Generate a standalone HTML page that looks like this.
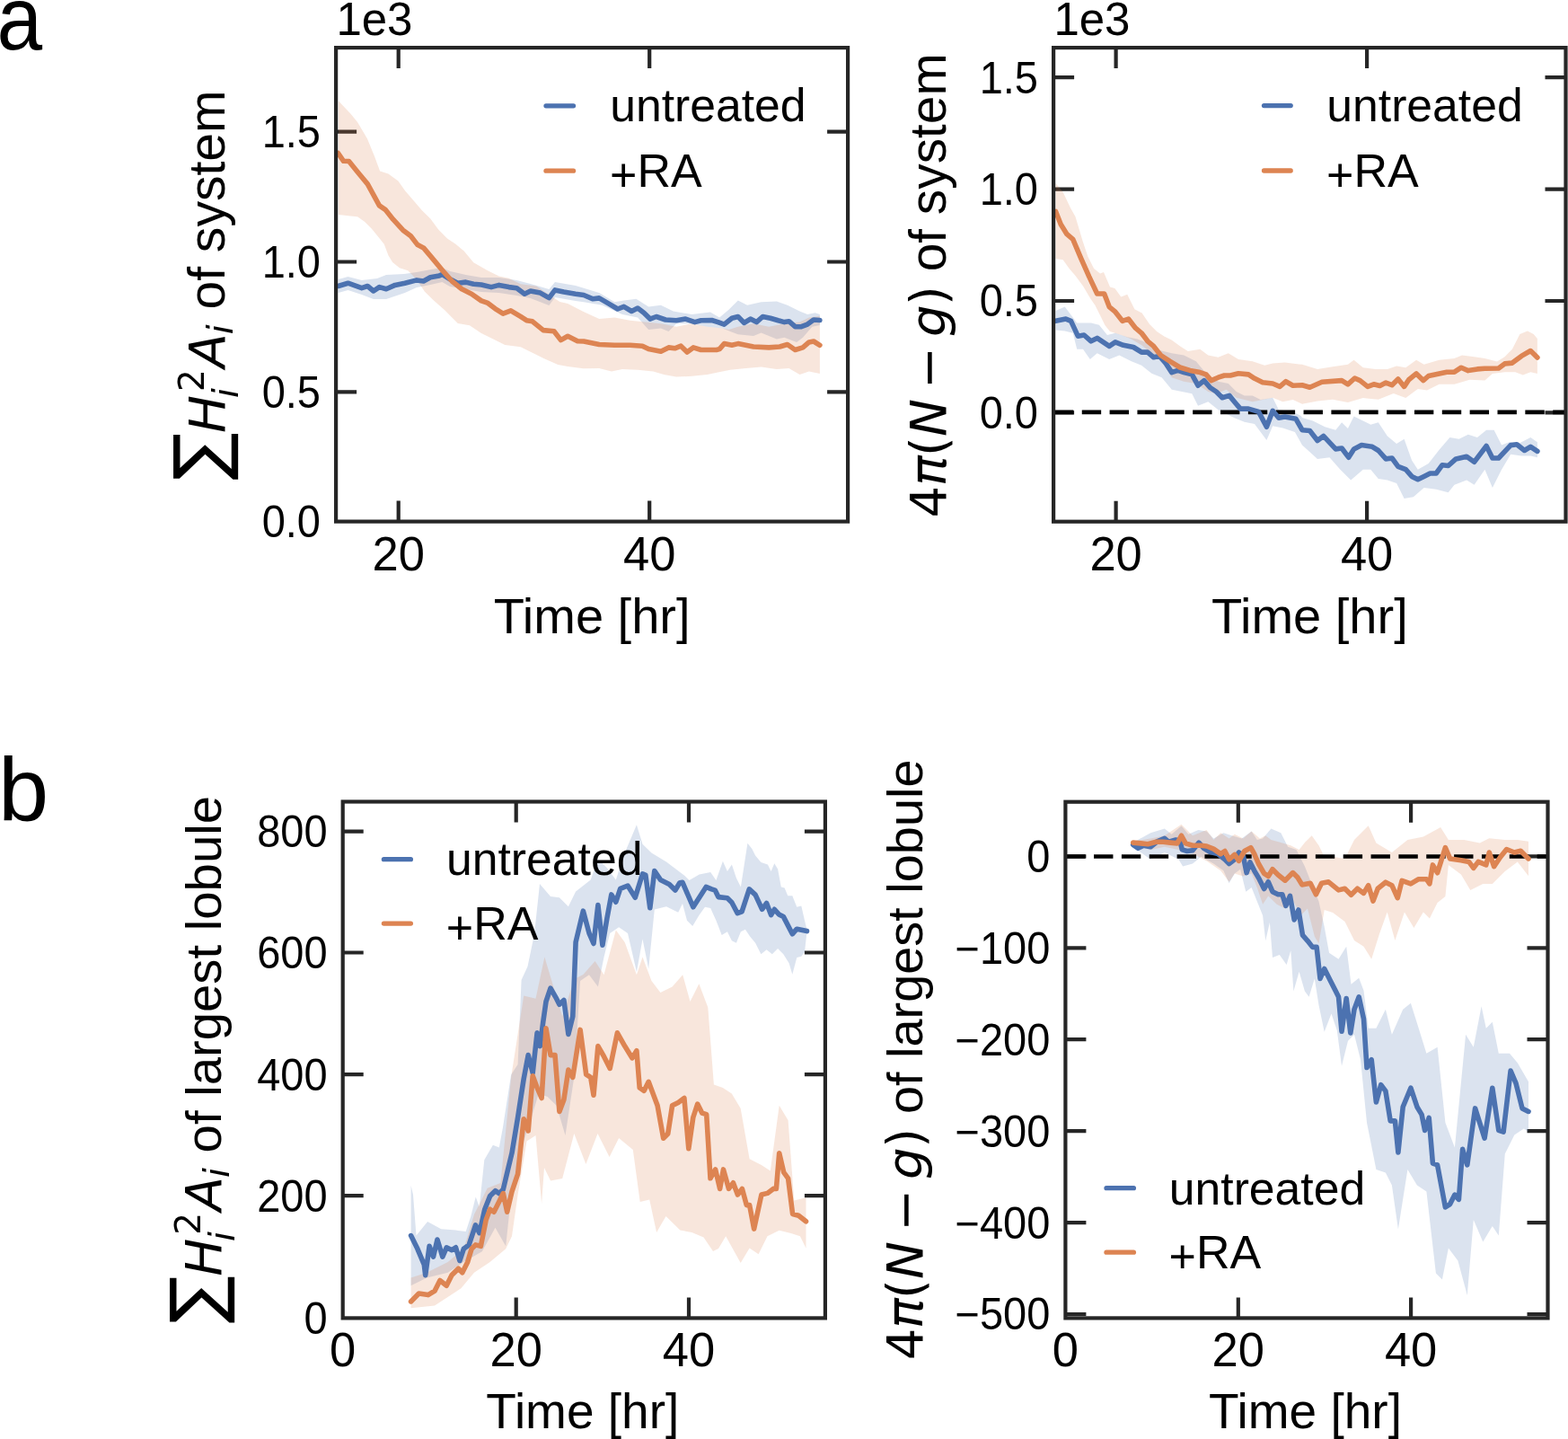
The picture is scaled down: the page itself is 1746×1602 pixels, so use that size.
<!DOCTYPE html>
<html><head><meta charset="utf-8"><title>Figure</title>
<style>
html,body{margin:0;padding:0;background:#fff;}
body{width:1746px;height:1602px;overflow:hidden;position:relative;}
svg{display:block;position:absolute;left:0;top:0;}
text{font-family:"Liberation Sans",Arial,Helvetica,sans-serif;fill:#000;}
</style></head><body>
<svg width="1746" height="1602" viewBox="0 0 1746 1602">
<rect width="1746" height="1602" fill="#fff"/>
<g id="aL">
<clipPath id="caL"><rect x="374.1" y="53.1" width="570.0" height="527.5"/></clipPath>
<path d="M443.7,580.6v-23M443.7,53.1v23M723.2,580.6v-23M723.2,53.1v23M374.1,436.3h23M944.1,436.3h-23M374.1,291.5h23M944.1,291.5h-23M374.1,146.6h23M944.1,146.6h-23" stroke="#262626" stroke-width="4.2" fill="none"/>
<g clip-path="url(#caL)">
<polygon points="376.6,311.0 387.5,308.0 402.8,312.0 420.0,310.0 430.1,306.0 450.0,305.0 464.0,303.0 480.0,300.0 492.4,298.0 501.1,302.0 518.6,306.0 536.0,309.0 555.7,309.0 575.4,312.0 590.7,316.0 611.4,322.0 618.0,314.0 640.9,318.0 650.0,320.8 667.2,325.9 684.4,336.2 694.7,334.5 708.4,332.8 722.2,341.4 735.9,339.7 749.7,346.5 770.3,350.0 790.9,347.4 801.2,353.4 811.5,344.8 821.8,334.5 832.1,339.7 847.6,336.2 864.8,335.4 876.8,339.7 890.5,346.5 899.1,350.0 907.7,348.2 912.9,350.0 912.9,362.0 904.3,363.7 894.0,375.7 887.1,380.9 873.4,375.7 864.8,377.5 847.6,370.6 839.0,374.0 821.8,372.3 813.2,368.9 804.6,365.4 787.5,363.7 770.3,360.3 753.1,360.3 744.5,368.9 735.9,365.4 722.2,367.1 710.1,353.4 693.0,350.0 670.6,339.7 650.0,336.2 640.9,335.0 618.0,331.0 611.4,340.0 590.7,332.0 575.4,329.0 555.7,326.0 536.0,325.0 518.6,322.0 501.1,319.0 492.4,314.0 479.2,317.0 464.0,320.0 450.8,326.0 430.1,333.0 415.9,333.0 402.8,328.0 387.5,323.0 376.6,326.0" fill="rgba(76,114,176,0.2)" stroke="none"/>
<polygon points="377.0,112.5 390.3,126.5 398.1,135.9 409.0,154.6 416.8,173.4 423.1,190.5 432.4,193.6 443.4,201.5 451.2,212.4 460.5,223.3 469.9,234.2 479.3,243.6 488.6,256.1 498.0,265.4 507.4,271.7 516.7,279.5 527.3,292.3 542.6,301.0 555.7,307.6 566.6,309.7 579.7,316.3 597.2,318.5 610.3,327.2 623.4,336.0 632.2,338.1 649.7,346.9 667.2,355.1 684.4,353.4 701.5,356.8 718.7,358.6 735.9,360.3 753.1,363.7 770.3,360.3 787.5,363.7 804.6,365.4 811.5,367.1 821.8,363.7 839.0,360.3 856.2,363.7 873.4,360.3 890.5,358.6 900.9,353.4 912.9,351.7 912.9,416.1 900.9,413.5 890.5,417.0 878.5,410.1 864.8,411.0 847.6,408.4 830.4,410.1 813.2,411.8 799.5,414.4 787.5,417.0 770.3,418.7 753.1,419.6 739.3,417.0 727.3,413.5 710.1,411.8 693.0,411.0 680.9,413.5 667.2,410.1 649.7,410.3 632.2,408.1 621.3,405.9 606.0,399.3 592.9,392.8 579.7,386.2 562.3,384.0 549.2,377.5 536.0,370.9 522.9,362.2 509.8,360.0 501.1,351.3 494.9,345.0 482.4,334.1 473.0,324.7 463.6,310.7 454.3,301.3 444.9,298.2 437.1,292.0 432.4,284.2 427.7,271.7 421.5,263.9 413.7,254.5 405.9,246.7 398.1,241.3 390.3,240.5 377.0,238.9" fill="rgba(221,132,82,0.2)" stroke="none"/>
<polyline points="376.6,318.5 387.5,315.2 402.8,320.7 409.3,318.5 415.9,324.0 422.4,319.6 430.1,321.8 439.9,317.4 450.8,315.2 464.0,311.9 471.6,313.0 479.2,308.7 489.1,307.1 492.4,305.4 501.1,310.8 509.8,315.2 518.6,314.1 527.3,316.3 536.0,317.0 547.0,319.6 555.7,317.4 566.6,319.6 575.4,320.7 584.1,327.2 590.7,324.0 601.6,326.1 611.4,331.6 618.0,322.9 627.8,325.0 640.9,327.2 650.0,328.5 660.3,332.8 667.2,331.9 677.5,337.9 687.8,344.0 694.7,341.4 703.3,346.5 710.1,343.1 717.0,348.2 723.9,355.1 730.8,352.5 741.1,356.0 753.1,356.8 763.4,355.1 773.7,358.6 780.6,356.8 792.6,356.5 799.5,358.6 806.4,361.1 815.0,354.3 821.8,352.5 828.7,359.4 835.6,355.1 842.4,358.6 849.3,352.5 857.9,354.3 866.5,356.8 873.4,358.6 878.5,357.7 885.4,363.7 892.3,363.7 899.1,361.1 906.0,356.0 912.9,356.5" fill="none" stroke="#4C72B0" stroke-width="5.6" stroke-linejoin="round" stroke-linecap="round"/>
<polyline points="376.5,170.5 382.5,179.3 388.5,179.5 398.4,191.8 409.3,204.9 422.4,228.9 429.0,233.3 437.7,244.2 448.7,256.2 457.4,262.8 465.0,272.6 471.6,275.9 483.6,290.1 494.5,303.2 503.3,313.0 514.2,321.8 525.1,327.2 536.0,334.9 542.6,337.1 551.3,343.6 560.1,349.1 568.8,345.8 579.7,352.4 586.3,356.7 592.9,357.8 604.9,367.6 616.9,368.7 624.5,378.6 632.2,374.2 643.1,379.7 650.0,380.0 667.2,383.5 684.4,384.3 701.5,384.3 715.3,385.2 722.2,388.6 735.9,391.2 744.5,386.9 751.4,387.8 758.2,385.2 765.1,392.1 772.0,386.9 780.6,389.5 797.8,389.5 801.2,388.6 806.4,382.6 815.0,384.3 821.8,382.6 839.0,386.0 856.2,386.9 868.2,386.0 876.8,383.5 885.4,389.5 894.0,386.9 900.9,380.9 906.0,380.0 912.9,384.3" fill="none" stroke="#DD8452" stroke-width="5.6" stroke-linejoin="round" stroke-linecap="round"/>
</g>
<rect x="374.1" y="53.1" width="570.0" height="527.5" fill="none" stroke="#262626" stroke-width="4.2" stroke-linejoin="miter"/>
</g>
<g id="aR">
<clipPath id="caR"><rect x="1173.1" y="53.1" width="570.4000000000001" height="527.6"/></clipPath>
<path d="M1242.6,580.7v-23M1242.6,53.1v23M1522.1,580.7v-23M1522.1,53.1v23M1173.1,459.4h23M1743.5,459.4h-23M1173.1,335.0h23M1743.5,335.0h-23M1173.1,210.6h23M1743.5,210.6h-23M1173.1,86.2h23M1743.5,86.2h-23" stroke="#262626" stroke-width="4.2" fill="none"/>
<g clip-path="url(#caR)">
<polygon points="1175.6,346.1 1185.7,341.6 1192.5,350.6 1199.2,359.6 1214.9,359.6 1223.9,361.8 1232.9,373.0 1241.9,370.8 1255.4,375.3 1266.6,377.5 1277.9,382.0 1291.3,389.9 1304.8,393.3 1318.3,395.5 1331.8,402.2 1343.0,415.7 1356.5,424.7 1367.8,427.0 1376.7,436.0 1385.7,440.4 1394.7,440.4 1403.7,444.9 1417.2,442.7 1423.9,456.2 1439.7,458.4 1448.7,462.9 1450.0,465.1 1461.9,468.5 1475.4,475.3 1487.3,478.7 1494.1,470.2 1500.9,477.0 1507.6,463.4 1517.8,468.5 1526.3,472.7 1534.8,470.2 1544.9,485.4 1555.1,493.9 1563.6,488.8 1572.1,512.6 1578.8,522.7 1590.7,516.0 1602.6,500.7 1614.4,487.1 1624.6,488.8 1634.8,483.8 1645.0,487.1 1655.1,478.7 1663.6,478.7 1672.1,495.6 1680.5,492.2 1690.7,493.9 1704.3,487.1 1711.9,492.2 1711.9,509.2 1704.3,507.5 1694.1,507.5 1682.2,505.8 1672.1,522.7 1661.9,543.1 1653.4,522.7 1641.6,539.7 1633.1,534.6 1619.5,539.7 1612.7,548.2 1599.2,544.8 1585.6,543.1 1573.8,553.3 1563.6,554.9 1555.1,538.0 1544.9,534.6 1534.8,532.9 1526.3,522.7 1517.8,522.7 1504.2,534.6 1492.4,522.7 1480.5,509.2 1467.0,510.9 1450.0,495.6 1441.9,480.9 1428.4,476.4 1417.2,474.2 1410.4,489.9 1397.0,471.9 1385.7,469.7 1374.5,465.2 1365.5,460.7 1356.5,456.2 1345.3,447.2 1334.0,451.7 1327.3,438.2 1316.1,436.0 1304.8,433.7 1293.6,420.2 1282.4,415.7 1271.1,406.7 1259.9,402.2 1246.4,395.5 1235.2,400.0 1221.7,393.3 1213.8,400.0 1206.0,388.8 1199.2,388.8 1194.7,370.8 1185.7,368.5 1175.6,367.4" fill="rgba(76,114,176,0.2)" stroke="none"/>
<polygon points="1175.6,204.0 1183.7,214.0 1192.0,231.6 1197.5,241.2 1201.6,255.0 1205.7,268.7 1211.2,285.2 1218.1,298.9 1225.0,304.4 1229.0,303.0 1236.0,319.5 1241.4,320.9 1248.3,330.5 1255.2,327.7 1263.4,344.2 1271.6,348.4 1279.9,360.7 1288.1,369.0 1296.4,374.5 1304.6,378.6 1314.2,385.4 1322.8,391.0 1336.3,388.8 1345.3,395.5 1356.5,397.8 1367.8,393.3 1379.0,400.0 1394.7,402.2 1408.2,406.7 1417.2,404.5 1430.7,403.4 1446.4,405.6 1450.0,405.8 1467.0,410.9 1483.9,408.3 1500.9,405.8 1507.6,400.7 1517.8,409.2 1531.4,410.9 1544.9,410.9 1555.1,407.5 1565.3,409.2 1577.1,400.7 1585.6,405.8 1602.6,400.7 1619.5,399.0 1628.0,395.6 1641.6,397.3 1653.4,399.0 1667.0,402.4 1675.5,397.3 1683.9,388.8 1692.4,371.9 1700.9,368.5 1707.7,371.9 1711.9,377.0 1711.9,415.9 1704.3,414.2 1695.8,417.6 1687.3,414.2 1675.5,414.2 1661.9,415.9 1653.4,423.6 1636.5,422.7 1619.5,427.8 1602.6,427.8 1589.0,434.6 1578.8,432.9 1565.3,443.1 1551.7,438.0 1534.8,444.8 1517.8,443.1 1500.9,448.1 1483.9,444.8 1467.0,446.5 1450.0,449.8 1439.7,444.9 1428.4,447.2 1417.2,442.7 1406.0,444.9 1394.7,447.2 1385.7,444.9 1376.7,442.7 1365.5,433.7 1354.3,438.2 1345.3,436.0 1331.8,427.0 1318.3,424.7 1304.8,420.2 1293.6,402.2 1282.4,393.3 1271.1,384.3 1259.9,377.5 1248.7,373.0 1235.9,369.0 1230.4,362.1 1225.0,351.1 1219.5,340.1 1214.0,331.9 1205.7,318.1 1197.5,307.1 1190.6,298.9 1183.7,289.3 1175.5,287.9" fill="rgba(221,132,82,0.2)" stroke="none"/>
<line x1="1173.1" y1="458.9" x2="1743.5" y2="458.9" stroke="#000" stroke-width="4.6" stroke-dasharray="21.4 9.45" stroke-dashoffset="-0.8"/>
<polyline points="1175.6,357.3 1186.9,355.1 1192.5,357.3 1200.3,374.2 1207.1,373.0 1214.9,379.8 1221.7,376.4 1235.2,385.4 1241.9,380.9 1250.9,384.3 1262.1,386.5 1271.1,392.1 1277.9,392.1 1284.6,397.8 1291.3,396.6 1298.1,404.5 1304.8,414.6 1311.6,412.4 1318.3,414.6 1327.3,416.9 1334.0,429.2 1340.8,423.6 1347.5,431.5 1354.3,436.0 1361.0,442.7 1368.9,440.4 1374.5,447.2 1381.2,455.1 1390.2,455.1 1401.5,458.4 1410.4,475.3 1417.2,457.3 1423.9,465.2 1430.7,464.0 1443.0,466.3 1450.0,478.7 1458.5,479.5 1467.0,490.5 1473.7,485.4 1487.3,499.9 1494.1,499.0 1501.7,509.2 1507.6,499.9 1516.1,495.6 1528.0,497.3 1534.8,501.5 1543.2,510.9 1550.0,510.0 1556.8,519.3 1565.3,522.7 1572.1,530.4 1578.8,533.8 1585.6,530.4 1592.4,527.0 1599.2,527.0 1606.0,517.7 1612.7,518.5 1621.2,510.9 1633.1,508.3 1641.6,514.3 1655.1,496.5 1661.9,510.0 1668.7,510.0 1682.2,495.6 1689.0,494.8 1697.5,501.5 1704.3,497.3 1711.9,502.4" fill="none" stroke="#4C72B0" stroke-width="5.6" stroke-linejoin="round" stroke-linecap="round"/>
<polyline points="1175.6,235.5 1181.2,249.7 1188.0,260.7 1194.7,266.3 1203.7,287.6 1212.7,307.9 1221.7,327.0 1229.6,327.0 1235.2,341.6 1241.9,347.2 1249.8,357.3 1256.5,355.1 1264.4,365.2 1271.1,370.8 1277.9,379.8 1284.6,385.4 1292.5,395.5 1302.6,402.2 1313.8,409.0 1325.1,412.4 1336.3,414.6 1343.0,416.9 1348.7,423.6 1356.5,420.2 1363.3,418.0 1370.0,418.0 1379.0,415.7 1390.2,416.9 1397.0,421.3 1406.0,425.8 1417.2,427.0 1425.1,430.3 1431.8,424.7 1439.7,429.2 1450.0,428.7 1458.5,431.2 1472.0,425.3 1494.1,423.6 1500.9,427.8 1508.5,421.0 1514.4,423.6 1522.9,430.4 1529.7,427.8 1536.5,429.5 1543.2,426.1 1550.0,428.7 1556.8,421.9 1563.6,430.4 1568.7,422.7 1577.1,415.9 1584.8,423.6 1590.7,418.5 1602.6,415.9 1611.0,414.2 1619.5,414.2 1627.1,409.2 1634.8,412.6 1645.0,410.9 1653.4,410.3 1668.7,410.0 1675.5,404.9 1683.9,404.1 1694.1,396.4 1704.3,390.5 1711.9,398.1" fill="none" stroke="#DD8452" stroke-width="5.6" stroke-linejoin="round" stroke-linecap="round"/>
</g>
<rect x="1173.1" y="53.1" width="570.4000000000001" height="527.6" fill="none" stroke="#262626" stroke-width="4.2" stroke-linejoin="miter"/>
</g>
<g id="bL">
<clipPath id="cbL"><rect x="381.7" y="892.5" width="537.2" height="574.9000000000001"/></clipPath>
<path d="M574.7,1467.4v-23M574.7,892.5v23M767.0,1467.4v-23M767.0,892.5v23M381.7,1331.1h23M918.9,1331.1h-23M381.7,1196.2h23M918.9,1196.2h-23M381.7,1060.5h23M918.9,1060.5h-23M381.7,925.6h23M918.9,925.6h-23" stroke="#262626" stroke-width="4.2" fill="none"/>
<g clip-path="url(#cbL)">
<polygon points="457.6,1319.8 460.0,1330.0 463.5,1375.6 476.1,1359.9 491.2,1368.2 507.7,1369.6 518.7,1371.0 524.2,1354.4 529.7,1332.4 533.8,1343.4 539.3,1291.2 548.9,1274.7 555.8,1277.5 560.0,1255.0 569.1,1196.6 576.6,1185.0 580.6,1091.0 587.5,1076.0 595.0,1040.0 601.0,984.0 613.0,998.0 622.9,999.2 632.9,1009.2 641.1,992.6 649.4,986.0 657.7,979.4 665.9,956.2 675.9,966.2 685.8,979.4 695.7,949.6 708.9,918.2 715.5,939.7 725.5,949.6 742.0,959.5 762.5,974.9 767.5,979.9 778.7,973.6 791.2,971.1 797.4,979.9 804.9,958.7 809.9,969.9 814.9,962.4 819.9,977.4 824.9,987.4 832.4,938.7 837.4,944.9 841.1,952.4 847.4,959.9 854.9,962.4 858.6,969.9 862.3,961.2 866.1,967.4 869.8,987.4 873.6,988.6 877.3,997.3 882.3,997.3 887.3,1009.8 892.3,1008.6 896.0,1024.8 898.5,1034.8 898.5,1037.3 896.0,1059.7 892.3,1064.7 887.3,1066.0 882.3,1084.7 878.6,1072.2 872.3,1062.2 866.1,1056.0 859.8,1062.2 853.6,1057.3 847.4,1062.2 841.1,1049.8 834.9,1042.3 829.9,1034.8 824.9,1037.3 819.9,1049.8 814.9,1047.3 809.9,1037.3 803.7,1041.0 797.4,1024.8 791.2,1011.1 785.0,1009.8 778.7,1018.6 771.2,1031.0 765.0,1024.8 760.0,1006.1 755.2,1015.8 742.0,1009.2 728.8,1012.5 722.2,1078.6 715.5,1045.5 708.9,1081.9 699.0,1038.9 689.1,1032.3 679.2,1038.9 672.5,1065.4 665.9,1098.5 656.0,1085.2 646.1,1091.9 639.5,1197.7 629.5,1263.9 619.6,1230.8 609.7,1220.9 599.8,1217.6 589.8,1250.6 579.9,1280.4 570.0,1323.4 563.2,1387.3 551.5,1366.8 536.8,1393.2 516.3,1404.9 498.7,1416.7 475.2,1422.5 457.6,1431.3" fill="rgba(76,114,176,0.2)" stroke="none"/>
<polygon points="457.6,1422.5 475.2,1416.7 498.7,1404.9 516.3,1390.3 528.0,1352.1 542.7,1322.8 557.4,1316.9 569.1,1199.5 583.2,1108.4 596.5,1111.7 606.4,1065.4 616.3,1098.5 626.2,1131.6 639.5,1090.0 649.4,1085.0 662.6,1070.0 672.5,1085.2 685.8,1035.6 695.7,1048.9 708.9,1085.2 715.5,1065.4 725.5,1091.9 735.4,1105.1 748.6,1098.5 760.2,1085.2 768.5,1115.0 778.4,1095.2 788.3,1121.6 794.9,1207.6 804.9,1210.9 814.8,1217.6 824.7,1234.1 834.6,1290.3 847.9,1297.0 857.8,1303.6 867.7,1230.8 877.6,1247.3 884.3,1336.6 897.5,1333.3 897.5,1389.6 890.9,1376.3 880.9,1373.0 867.7,1369.7 854.5,1376.3 844.6,1396.2 834.6,1389.6 824.7,1406.1 808.2,1376.3 800.0,1390.0 794.0,1393.0 783.5,1377.5 770.4,1372.0 757.3,1369.6 741.5,1354.0 731.1,1372.0 723.2,1335.5 712.7,1338.0 704.8,1280.0 689.1,1267.0 678.6,1288.0 665.5,1262.0 652.4,1296.0 639.3,1262.0 626.2,1312.0 613.1,1314.5 606.0,1300.0 603.1,1340.0 596.5,1263.9 586.5,1270.5 576.6,1330.0 570.0,1376.3 563.2,1390.3 545.6,1404.9 528.0,1416.7 513.4,1434.3 484.0,1453.4 457.6,1456.3" fill="rgba(221,132,82,0.2)" stroke="none"/>
<polyline points="457.6,1375.6 464.9,1390.3 472.3,1407.9 473.7,1419.6 478.1,1387.3 482.5,1399.1 487.0,1380.0 492.8,1399.1 497.2,1388.8 503.1,1391.7 507.5,1388.8 511.9,1403.5 516.3,1390.3 522.2,1385.9 529.5,1363.8 533.9,1372.7 539.8,1346.2 545.6,1331.6 551.5,1325.7 555.9,1328.6 560.3,1324.2 566.2,1299.3 570.0,1283.7 576.6,1244.0 583.2,1201.0 588.2,1174.6 593.2,1194.4 598.1,1149.8 601.4,1164.6 604.7,1138.2 608.0,1115.0 613.0,1100.1 619.6,1111.7 622.9,1118.3 627.9,1113.4 632.9,1151.4 637.8,1131.6 641.1,1048.9 649.4,1014.1 656.0,1038.9 661.0,1050.5 665.9,1007.5 670.9,1052.2 675.9,1022.4 680.8,995.9 685.8,1004.2 690.7,989.3 699.0,986.0 707.3,999.2 715.5,972.8 718.9,974.4 723.8,1010.8 728.8,969.5 735.4,979.4 745.3,984.4 751.9,991.0 756.9,982.7 760.0,982.4 771.9,1009.8 786.2,987.4 792.4,989.9 796.2,991.1 799.9,998.6 809.9,999.8 814.9,1004.8 821.2,1016.7 826.1,1014.8 834.3,989.9 841.1,996.1 848.6,1012.3 853.6,1005.5 858.6,1018.6 862.3,1012.3 867.3,1017.9 872.3,1020.4 882.3,1039.8 887.3,1034.2 898.5,1036.6" fill="none" stroke="#4C72B0" stroke-width="5.6" stroke-linejoin="round" stroke-linecap="round"/>
<polyline points="457.6,1448.9 466.4,1440.1 476.7,1441.6 484.0,1437.2 489.9,1425.5 497.2,1431.3 503.1,1419.6 510.4,1412.3 514.8,1416.7 520.7,1404.9 525.1,1390.3 529.5,1385.9 535.4,1387.3 541.2,1358.0 545.6,1346.2 550.0,1349.2 555.9,1337.4 560.3,1328.6 564.7,1349.2 570.0,1326.7 576.6,1306.9 583.2,1245.7 588.2,1258.9 593.2,1197.7 598.1,1211.0 603.1,1222.5 608.0,1144.8 613.0,1174.6 618.0,1174.6 622.9,1237.4 627.9,1224.2 632.9,1191.1 637.8,1199.4 646.1,1146.4 652.7,1196.1 657.7,1199.4 661.0,1219.2 665.9,1164.6 672.5,1176.2 679.2,1189.4 687.4,1149.8 695.7,1164.6 704.0,1177.9 708.9,1169.6 712.2,1211.0 717.2,1214.3 722.2,1204.3 732.1,1230.8 738.7,1267.2 743.7,1262.2 748.6,1230.8 755.2,1227.5 761.9,1222.5 766.8,1278.8 771.8,1244.0 776.7,1229.1 781.7,1239.1 786.7,1240.7 791.0,1311.8 796.6,1301.9 801.6,1323.4 805.5,1301.9 811.5,1323.4 816.4,1316.8 821.4,1330.0 826.4,1323.4 831.3,1341.6 834.6,1341.6 839.6,1368.1 847.9,1330.0 854.5,1328.4 861.1,1323.4 864.4,1323.4 867.7,1283.7 872.7,1305.2 877.6,1311.8 882.6,1351.5 889.2,1353.2 897.5,1359.8" fill="none" stroke="#DD8452" stroke-width="5.6" stroke-linejoin="round" stroke-linecap="round"/>
</g>
<rect x="381.7" y="892.5" width="537.2" height="574.9000000000001" fill="none" stroke="#262626" stroke-width="4.2" stroke-linejoin="miter"/>
</g>
<g id="bR">
<clipPath id="cbR"><rect x="1186.4" y="892.7" width="537.0999999999999" height="574.7"/></clipPath>
<path d="M1378.8,1467.4v-23M1378.8,892.7v23M1571.1,1467.4v-23M1571.1,892.7v23M1186.4,953.3h23M1723.5,953.3h-23M1186.4,1055.3h23M1723.5,1055.3h-23M1186.4,1157.2h23M1723.5,1157.2h-23M1186.4,1259.2h23M1723.5,1259.2h-23M1186.4,1361.1h23M1723.5,1361.1h-23M1186.4,1463.0h23M1723.5,1463.0h-23" stroke="#262626" stroke-width="4.2" fill="none"/>
<g clip-path="url(#cbR)">
<polygon points="1261.7,938.1 1281.2,927.2 1296.8,922.5 1304.6,928.7 1315.5,919.4 1323.3,928.7 1334.3,924.0 1343.6,925.6 1351.4,933.4 1362.4,927.2 1371.7,930.3 1382.6,933.4 1393.6,925.6 1399.8,935.0 1406.1,933.4 1415.4,922.5 1426.3,927.2 1434.1,942.8 1443.5,945.9 1452.9,964.6 1459.1,980.2 1468.5,1003.6 1474.7,1031.7 1480.0,1060.8 1490.5,1067.8 1499.2,1053.8 1504.5,1095.8 1513.2,1088.8 1518.5,1102.8 1523.7,1144.8 1532.4,1144.8 1542.9,1123.8 1549.9,1151.7 1562.2,1123.8 1570.9,1116.8 1579.7,1144.8 1588.4,1172.7 1600.6,1165.7 1609.4,1249.7 1619.9,1277.6 1632.1,1151.7 1640.8,1165.7 1649.6,1120.3 1654.8,1144.8 1661.8,1137.8 1668.8,1172.7 1681.0,1172.7 1689.8,1183.2 1702.0,1204.2 1702.0,1260.1 1696.8,1256.6 1686.3,1263.6 1675.8,1284.6 1668.8,1375.5 1661.8,1365.0 1651.3,1382.5 1640.8,1358.0 1633.8,1442.0 1623.4,1403.5 1612.9,1389.5 1605.9,1424.5 1598.9,1417.5 1588.4,1326.6 1577.9,1319.6 1567.4,1302.1 1556.9,1368.5 1549.9,1319.6 1542.9,1305.6 1532.4,1302.1 1522.0,1249.7 1515.0,1179.7 1508.0,1151.7 1501.0,1158.7 1494.0,1186.7 1488.8,1147.2 1482.5,1128.5 1474.7,1148.8 1468.5,1119.1 1463.8,1089.5 1457.6,1109.7 1452.9,1103.5 1446.6,1081.7 1440.4,1103.5 1437.3,1058.3 1432.6,1073.9 1424.8,1062.9 1417.0,1066.1 1413.9,1027.0 1409.2,1047.3 1406.1,1019.2 1399.8,1003.6 1393.6,988.0 1387.3,992.7 1381.1,967.7 1374.8,972.4 1368.6,983.3 1362.4,969.3 1351.4,961.5 1337.4,953.7 1328.0,961.5 1317.1,964.6 1312.4,956.8 1296.8,949.0 1281.2,956.8 1261.7,942.8" fill="rgba(76,114,176,0.2)" stroke="none"/>
<polygon points="1261.7,936.5 1281.2,933.4 1296.8,930.3 1315.5,917.8 1328.0,930.3 1343.6,924.0 1351.4,935.0 1359.2,927.2 1368.6,933.4 1374.8,928.7 1384.2,933.4 1393.6,925.6 1402.9,933.4 1409.2,930.3 1415.4,935.0 1426.3,938.1 1437.3,941.2 1446.6,945.9 1452.9,938.1 1460.7,930.3 1468.5,941.2 1474.7,953.7 1484.1,953.7 1497.5,955.9 1508.0,935.0 1523.7,919.2 1532.4,938.5 1549.9,949.0 1567.4,935.0 1584.9,931.5 1604.1,921.0 1612.9,935.0 1630.3,935.0 1647.8,938.5 1658.3,933.2 1675.8,935.0 1689.8,935.0 1702.0,936.7 1702.0,975.2 1689.8,959.4 1675.8,969.9 1661.8,983.9 1651.3,983.9 1637.3,990.9 1626.9,973.4 1612.9,962.9 1609.4,997.9 1600.6,1004.9 1591.9,1022.4 1584.9,1015.4 1574.4,1032.9 1563.9,1015.4 1553.4,1046.9 1544.7,1015.4 1535.9,1039.9 1527.2,1067.8 1518.5,1053.8 1508.0,1046.9 1497.5,1025.9 1484.1,1016.1 1474.7,1013.0 1468.5,1050.4 1463.8,1042.6 1456.0,1011.4 1448.2,1019.2 1440.4,1003.6 1431.0,1011.4 1421.7,1006.8 1412.3,997.4 1406.1,1006.8 1399.8,988.0 1393.6,972.4 1384.2,975.5 1374.8,972.4 1368.6,981.8 1359.2,969.3 1343.6,958.4 1328.0,950.6 1312.4,945.9 1296.8,942.8 1281.2,945.9 1261.7,941.2" fill="rgba(221,132,82,0.2)" stroke="none"/>
<line x1="1186.4" y1="953.5" x2="1723.5" y2="953.5" stroke="#000" stroke-width="4.6" stroke-dasharray="21.4 9.45" stroke-dashoffset="-0.8"/>
<polyline points="1261.7,940.4 1267.2,944.3 1273.4,941.2 1281.2,942.8 1289.0,936.5 1296.8,933.4 1301.5,937.3 1309.3,935.0 1314.0,936.5 1316.3,945.9 1321.8,947.5 1328.0,946.7 1335.0,938.1 1340.5,944.3 1346.8,948.2 1356.1,950.6 1363.9,956.8 1368.6,961.5 1374.8,956.8 1379.5,949.0 1384.2,952.1 1388.1,971.6 1392.0,959.9 1396.7,969.3 1402.2,978.7 1407.6,989.6 1412.3,981.8 1417.0,992.7 1423.2,995.8 1427.9,995.8 1431.8,1008.3 1436.5,997.4 1441.2,1023.9 1445.9,1013.0 1450.5,1041.1 1456.0,1047.3 1461.5,1054.4 1466.1,1054.4 1470.0,1089.5 1474.7,1078.5 1481.0,1091.0 1487.0,1102.8 1490.5,1109.8 1494.0,1148.3 1499.2,1111.5 1503.8,1150.0 1508.0,1123.8 1513.2,1109.8 1518.5,1134.3 1522.0,1188.5 1527.2,1179.7 1532.4,1226.9 1537.7,1207.7 1542.9,1214.7 1548.2,1247.9 1553.4,1247.9 1556.9,1282.9 1562.2,1232.2 1570.9,1211.2 1577.9,1232.2 1583.1,1240.9 1586.6,1258.4 1591.2,1244.4 1595.4,1295.1 1600.6,1296.9 1609.4,1344.0 1614.6,1340.6 1619.9,1330.1 1624.4,1335.3 1628.6,1279.4 1633.8,1296.9 1642.6,1233.9 1653.1,1267.1 1661.8,1211.2 1668.8,1258.4 1674.1,1260.1 1682.1,1192.0 1688.0,1205.9 1695.0,1233.9 1702.0,1237.4" fill="none" stroke="#4C72B0" stroke-width="5.6" stroke-linejoin="round" stroke-linecap="round"/>
<polyline points="1261.7,938.1 1270.3,938.9 1278.1,939.7 1287.5,937.3 1295.3,937.3 1303.1,938.1 1310.9,938.9 1315.5,930.3 1320.2,938.9 1328.0,941.2 1337.4,941.2 1343.6,942.0 1351.4,945.1 1359.2,950.6 1363.9,947.5 1368.6,956.8 1374.8,951.4 1379.5,958.4 1385.8,947.5 1392.8,943.6 1396.7,950.6 1401.4,961.5 1407.6,972.4 1412.3,975.5 1417.0,967.7 1423.2,974.0 1431.0,980.2 1439.6,971.6 1445.1,977.1 1449.8,984.9 1459.1,983.3 1465.4,995.8 1471.6,983.3 1479.4,981.8 1490.5,990.9 1497.5,989.2 1504.5,996.2 1511.5,989.2 1518.5,994.4 1523.7,985.7 1529.0,1003.1 1534.2,989.2 1542.9,982.2 1549.9,985.7 1556.2,999.7 1561.1,980.4 1570.9,983.9 1579.7,978.7 1588.4,978.7 1591.9,983.9 1595.4,962.9 1600.6,971.7 1609.4,943.7 1614.6,955.9 1626.9,957.7 1635.6,959.4 1640.8,966.4 1646.1,959.4 1654.8,962.9 1658.3,949.0 1663.6,964.7 1670.6,954.2 1677.6,945.5 1686.3,949.0 1693.3,947.2 1698.5,952.4 1702.0,955.9" fill="none" stroke="#DD8452" stroke-width="5.6" stroke-linejoin="round" stroke-linecap="round"/>
</g>
<rect x="1186.4" y="892.7" width="537.0999999999999" height="574.7" fill="none" stroke="#262626" stroke-width="4.2" stroke-linejoin="miter"/>
</g>
<text transform="translate(-3.6,54.7) scale(0.91,1)" font-size="100">a</text>
<text x="-1.9" y="913.8" font-size="101" text-anchor="start">b</text>
<text transform="translate(443.7,635.2) scale(1,1.03)" font-size="52.5" text-anchor="middle">20</text>
<text transform="translate(723.2,635.2) scale(1,1.03)" font-size="52.5" text-anchor="middle">40</text>
<text transform="translate(357.0,598.0) scale(1,1.045)" font-size="47" text-anchor="end">0.0</text>
<text transform="translate(357.0,453.7) scale(1,1.045)" font-size="47" text-anchor="end">0.5</text>
<text transform="translate(357.0,308.9) scale(1,1.045)" font-size="47" text-anchor="end">1.0</text>
<text transform="translate(357.0,164.0) scale(1,1.045)" font-size="47" text-anchor="end">1.5</text>
<text transform="translate(374.4,39.1) scale(1,1.03)" font-size="51" text-anchor="start">1e3</text>
<text x="659.1" y="705.2" font-size="56" text-anchor="middle">Time [hr]</text>
<text transform="translate(1242.6,635.2) scale(1,1.03)" font-size="52.5" text-anchor="middle">20</text>
<text transform="translate(1522.1,635.2) scale(1,1.03)" font-size="52.5" text-anchor="middle">40</text>
<text transform="translate(1156.0,476.8) scale(1,1.045)" font-size="47" text-anchor="end">0.0</text>
<text transform="translate(1156.0,352.4) scale(1,1.045)" font-size="47" text-anchor="end">0.5</text>
<text transform="translate(1156.0,228.0) scale(1,1.045)" font-size="47" text-anchor="end">1.0</text>
<text transform="translate(1156.0,103.6) scale(1,1.045)" font-size="47" text-anchor="end">1.5</text>
<text transform="translate(1173.4,39.1) scale(1,1.03)" font-size="51" text-anchor="start">1e3</text>
<text x="1458.3" y="705.2" font-size="56" text-anchor="middle">Time [hr]</text>
<text transform="translate(381.7,1521.3) scale(1,1.03)" font-size="52.5" text-anchor="middle">0</text>
<text transform="translate(574.7,1521.3) scale(1,1.03)" font-size="52.5" text-anchor="middle">20</text>
<text transform="translate(767.0,1521.3) scale(1,1.03)" font-size="52.5" text-anchor="middle">40</text>
<text transform="translate(364.6,1484.8) scale(1,1.045)" font-size="47" text-anchor="end">0</text>
<text transform="translate(364.6,1348.5) scale(1,1.045)" font-size="47" text-anchor="end">200</text>
<text transform="translate(364.6,1213.6) scale(1,1.045)" font-size="47" text-anchor="end">400</text>
<text transform="translate(364.6,1077.9) scale(1,1.045)" font-size="47" text-anchor="end">600</text>
<text transform="translate(364.6,943.0) scale(1,1.045)" font-size="47" text-anchor="end">800</text>
<text x="648.8" y="1590.1" font-size="55" text-anchor="middle">Time [hr]</text>
<text transform="translate(1186.4,1521.3) scale(1,1.03)" font-size="52.5" text-anchor="middle">0</text>
<text transform="translate(1378.8,1521.3) scale(1,1.03)" font-size="52.5" text-anchor="middle">20</text>
<text transform="translate(1571.1,1521.3) scale(1,1.03)" font-size="52.5" text-anchor="middle">40</text>
<text transform="translate(1169.3,970.7) scale(1,1.045)" font-size="47" text-anchor="end">0</text>
<text transform="translate(1169.3,1072.7) scale(1,1.045)" font-size="47" text-anchor="end">−100</text>
<text transform="translate(1169.3,1174.6) scale(1,1.045)" font-size="47" text-anchor="end">−200</text>
<text transform="translate(1169.3,1276.6) scale(1,1.045)" font-size="47" text-anchor="end">−300</text>
<text transform="translate(1169.3,1378.5) scale(1,1.045)" font-size="47" text-anchor="end">−400</text>
<text transform="translate(1169.3,1480.4) scale(1,1.045)" font-size="47" text-anchor="end">−500</text>
<text x="1453.5" y="1590.1" font-size="55" text-anchor="middle">Time [hr]</text>
<path d="M608.0,117.8H638.5" stroke="#4C72B0" stroke-width="5.3" stroke-linecap="round"/>
<path d="M608.0,190.2H638.5" stroke="#DD8452" stroke-width="5.3" stroke-linecap="round"/>
<text x="679.2" y="135.4" font-size="51.7" text-anchor="start">untreated</text>
<text x="679.0" y="208.0" font-size="52"><tspan dy="4.6">+</tspan><tspan dy="-4.6">RA</tspan></text>
<path d="M1407.5,117.6H1437.2" stroke="#4C72B0" stroke-width="5.3" stroke-linecap="round"/>
<path d="M1407.5,190.0H1437.2" stroke="#DD8452" stroke-width="5.3" stroke-linecap="round"/>
<text x="1477.3" y="135.4" font-size="51.7" text-anchor="start">untreated</text>
<text x="1477.1" y="208.0" font-size="52"><tspan dy="4.6">+</tspan><tspan dy="-4.6">RA</tspan></text>
<path d="M427.4,956.7H457.4" stroke="#4C72B0" stroke-width="5.3" stroke-linecap="round"/>
<path d="M427.4,1028.1H457.4" stroke="#DD8452" stroke-width="5.3" stroke-linecap="round"/>
<text x="497.0" y="974.1" font-size="51.7" text-anchor="start">untreated</text>
<text x="496.8" y="1046.2" font-size="52"><tspan dy="4.6">+</tspan><tspan dy="-4.6">RA</tspan></text>
<path d="M1232.0,1322.7H1262.4" stroke="#4C72B0" stroke-width="5.3" stroke-linecap="round"/>
<path d="M1232.0,1394.2H1262.4" stroke="#DD8452" stroke-width="5.3" stroke-linecap="round"/>
<text x="1301.8" y="1340.5" font-size="51.7" text-anchor="start">untreated</text>
<text x="1301.6" y="1412.0" font-size="52"><tspan dy="4.6">+</tspan><tspan dy="-4.6">RA</tspan></text>
<g transform="translate(249.8,534.0) rotate(-90)"><text x="-0.8" y="0" font-size="79" style="font-family:'DejaVu Sans',sans-serif">∑</text><text x="52" y="0" font-size="56" style="font-family:'DejaVu Sans',sans-serif;font-style:oblique">H</text><text x="90.9" y="15.4" font-size="39.2" style="font-family:'DejaVu Sans',sans-serif;font-style:oblique">i</text><text x="98.1" y="-22.5" font-size="39.2" style="font-family:'DejaVu Sans',sans-serif">2</text><text x="124.5" y="0" font-size="56" style="font-family:'DejaVu Sans',sans-serif;font-style:oblique">A</text><text x="161.8" y="9" font-size="39.2" style="font-family:'DejaVu Sans',sans-serif;font-style:oblique">i</text><text x="189.4" y="0" font-size="57.1">of system</text></g>
<g transform="translate(245.9,1472.8) rotate(-90)"><text x="-0.8" y="0" font-size="79" style="font-family:'DejaVu Sans',sans-serif">∑</text><text x="52" y="0" font-size="56" style="font-family:'DejaVu Sans',sans-serif;font-style:oblique">H</text><text x="90.9" y="15.4" font-size="39.2" style="font-family:'DejaVu Sans',sans-serif;font-style:oblique">i</text><text x="98.1" y="-22.5" font-size="39.2" style="font-family:'DejaVu Sans',sans-serif">2</text><text x="124.5" y="0" font-size="56" style="font-family:'DejaVu Sans',sans-serif;font-style:oblique">A</text><text x="161.8" y="9" font-size="39.2" style="font-family:'DejaVu Sans',sans-serif;font-style:oblique">i</text><text x="189.4" y="0" font-size="56.3">of largest lobule</text></g>
<g transform="translate(1052.9,573.6) rotate(-90)"><text x="-2.8" y="0" font-size="56" style="font-family:'DejaVu Sans',sans-serif">4</text><text x="32.6" y="0" font-size="56" style="font-family:'DejaVu Sans',sans-serif;font-style:oblique">π</text><text x="65.6" y="0" font-size="56" style="font-family:'DejaVu Sans',sans-serif">(</text><text x="87.6" y="0" font-size="56" style="font-family:'DejaVu Sans',sans-serif;font-style:oblique">N</text><text x="140.7" y="0" font-size="56" style="font-family:'DejaVu Sans',sans-serif">−</text><text x="198.5" y="0" font-size="56" style="font-family:'DejaVu Sans',sans-serif;font-style:oblique">g</text><text x="233.7" y="0" font-size="56" style="font-family:'DejaVu Sans',sans-serif">)</text><text x="271.3" y="0" font-size="56.8">of system</text></g>
<g transform="translate(1027.0,1511.5) rotate(-90)"><text x="-2.8" y="0" font-size="56" style="font-family:'DejaVu Sans',sans-serif">4</text><text x="32.6" y="0" font-size="56" style="font-family:'DejaVu Sans',sans-serif;font-style:oblique">π</text><text x="65.6" y="0" font-size="56" style="font-family:'DejaVu Sans',sans-serif">(</text><text x="87.6" y="0" font-size="56" style="font-family:'DejaVu Sans',sans-serif;font-style:oblique">N</text><text x="140.7" y="0" font-size="56" style="font-family:'DejaVu Sans',sans-serif">−</text><text x="198.5" y="0" font-size="56" style="font-family:'DejaVu Sans',sans-serif;font-style:oblique">g</text><text x="233.7" y="0" font-size="56" style="font-family:'DejaVu Sans',sans-serif">)</text><text x="271.4" y="0" font-size="55.9">of largest lobule</text></g>
</svg>
</body></html>
